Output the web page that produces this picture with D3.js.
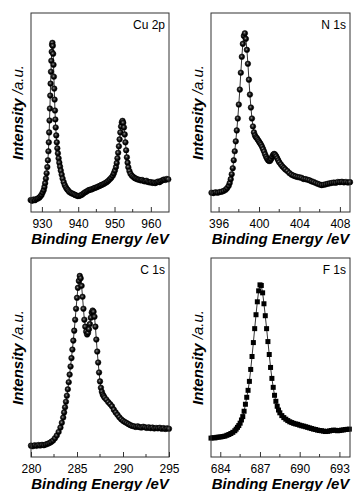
<!DOCTYPE html>
<html>
<head>
<meta charset="utf-8">
<script src="https://cdn.jsdelivr.net/npm/d3@7"></script>
<style>
  body { margin: 0; background: #fff; }
  svg { display: block; font-family: "Liberation Sans", Arial, sans-serif; }
  .frame { fill: none; stroke: #333; stroke-width: 1; }
  .trace { fill: none; stroke: #000; stroke-width: 0.8; }
  .tick-label { font-size: 12px; fill: #000; }
  .axis-title { font-size: 15px; font-weight: bold; font-style: italic; fill: #000; }
  .panel-name { font-size: 12px; fill: #000; }
</style>
</head>
<body>
<div id="chart"></div>
<script>
// --- Spectra: [binding energy (eV), intensity (a.u.)] ---
const cuData = [
  [926.9, 6.0], [927.3, 5.6], [927.7, 6.3], [928.1, 5.9], [928.5, 6.5], [928.9, 6.8],
  [929.3, 7.2], [929.6, 7.9], [929.9, 8.6], [930.2, 9.8], [930.5, 11.0], [930.7, 12.6],
  [930.9, 14.5], [931.1, 16.8], [931.3, 19.5], [931.5, 22.6], [931.65, 26.0], [931.8, 30.5],
  [931.9, 35.0], [932.0, 40.0], [932.1, 46.0], [932.2, 52.0], [932.3, 58.5], [932.4, 64.5],
  [932.5, 70.5], [932.6, 76.0], [932.7, 80.5], [932.8, 84.0], [932.9, 85.0], [933.0, 83.5],
  [933.1, 79.5], [933.2, 74.0], [933.3, 68.0], [933.4, 62.0], [933.5, 56.5], [933.6, 51.0],
  [933.7, 46.5], [933.8, 42.5], [933.95, 38.5], [934.1, 35.0], [934.25, 32.0], [934.4, 29.5],
  [934.6, 27.0], [934.8, 24.8], [935.0, 22.8], [935.2, 20.8], [935.45, 18.8], [935.7, 16.8],
  [936.0, 15.0], [936.3, 13.5], [936.6, 12.4], [936.9, 11.5], [937.2, 10.9], [937.5, 10.2],
  [937.9, 9.7], [938.3, 9.3], [938.7, 9.0], [939.1, 8.6], [939.5, 8.3], [939.9, 8.0],
  [940.3, 8.1], [940.7, 8.4], [941.1, 8.8], [941.5, 9.4], [941.9, 9.9], [942.3, 10.3],
  [942.7, 10.8], [943.1, 11.1], [943.5, 11.3], [943.9, 11.5], [944.3, 11.9], [944.7, 12.2],
  [945.1, 12.4], [945.5, 12.8], [945.9, 13.1], [946.3, 13.5], [946.7, 13.8], [947.1, 14.2],
  [947.5, 14.6], [947.9, 15.1], [948.3, 15.7], [948.7, 16.4], [949.1, 17.2], [949.5, 18.2],
  [949.8, 19.4], [950.1, 20.8], [950.4, 22.6], [950.6, 24.6], [950.8, 27.0], [951.0, 29.8],
  [951.2, 33.0], [951.4, 36.5], [951.6, 40.0], [951.8, 43.0], [952.0, 45.0], [952.2, 45.8],
  [952.4, 44.8], [952.6, 42.5], [952.8, 39.0], [953.0, 35.0], [953.2, 31.0], [953.4, 27.5],
  [953.6, 24.8], [953.8, 22.5], [954.1, 20.6], [954.4, 19.2], [954.8, 18.2], [955.2, 17.6],
  [955.6, 17.0], [956.0, 16.7], [956.4, 16.3], [956.8, 16.2], [957.2, 15.9], [957.6, 16.1],
  [958.0, 15.6], [958.4, 15.4], [958.8, 15.7], [959.2, 15.1], [959.6, 14.9], [960.0, 15.0],
  [960.4, 14.6], [960.8, 14.8], [961.2, 14.5], [961.6, 14.9], [962.0, 15.3], [962.4, 15.0],
  [962.8, 15.6], [963.2, 15.9], [963.6, 16.3], [964.0, 16.1], [964.4, 16.6], [964.8, 16.4]
];

const nData = [
  [395.3, 9.7], [395.5, 9.5], [395.7, 9.9], [395.9, 9.7], [396.1, 10.0], [396.3, 10.2],
  [396.5, 10.6], [396.7, 11.2], [396.85, 12.0], [397.0, 13.2], [397.1, 14.6], [397.2, 16.5],
  [397.3, 19.0], [397.4, 22.0], [397.5, 26.0], [397.6, 30.5], [397.7, 35.5], [397.8, 41.0],
  [397.9, 47.0], [398.0, 54.0], [398.1, 61.5], [398.2, 70.0], [398.3, 78.0], [398.4, 84.5],
  [398.5, 88.5], [398.6, 89.8], [398.7, 87.0], [398.8, 81.5], [398.9, 74.5], [399.0, 66.5],
  [399.1, 59.0], [399.2, 52.5], [399.3, 47.0], [399.4, 43.0], [399.5, 40.0], [399.6, 38.5],
  [399.7, 37.6], [399.8, 37.0], [399.9, 36.2], [400.0, 35.4], [400.1, 34.6], [400.2, 33.8],
  [400.3, 32.8], [400.4, 31.6], [400.5, 30.4], [400.6, 29.0], [400.7, 27.8], [400.8, 26.8],
  [400.9, 26.0], [401.0, 25.6], [401.1, 25.8], [401.2, 26.6], [401.3, 27.8], [401.4, 28.8],
  [401.5, 29.2], [401.6, 28.8], [401.7, 28.0], [401.8, 27.0], [401.9, 26.0], [402.0, 25.0],
  [402.15, 24.0], [402.3, 23.0], [402.45, 22.2], [402.6, 21.4], [402.8, 20.6], [403.0, 19.6],
  [403.2, 18.8], [403.4, 18.3], [403.6, 17.9], [403.8, 17.6], [404.0, 17.4], [404.2, 17.2],
  [404.4, 16.6], [404.6, 16.5], [404.8, 16.2], [405.0, 15.9], [405.2, 15.4], [405.4, 15.1],
  [405.6, 14.6], [405.8, 14.2], [406.0, 13.8], [406.2, 13.5], [406.4, 13.7], [406.6, 13.9],
  [406.8, 14.2], [407.0, 14.4], [407.2, 14.6], [407.4, 14.8], [407.6, 14.7], [407.8, 15.1],
  [408.0, 15.0], [408.2, 15.2], [408.4, 14.9], [408.6, 15.1], [408.8, 14.8], [409.0, 15.0]
];

const cData = [
  [280.0, 5.7], [280.2, 5.4], [280.4, 5.9], [280.6, 5.6], [280.8, 6.0], [281.0, 5.8],
  [281.2, 6.1], [281.4, 5.9], [281.6, 6.3], [281.8, 6.6], [282.0, 7.0], [282.2, 7.6],
  [282.4, 8.3], [282.6, 9.4], [282.8, 10.8], [283.0, 12.6], [283.2, 14.8], [283.35, 17.2],
  [283.5, 19.8], [283.6, 22.4], [283.7, 25.0], [283.8, 27.8], [283.9, 30.8], [284.0, 34.0],
  [284.1, 37.6], [284.2, 41.4], [284.3, 45.5], [284.4, 49.7], [284.5, 54.0], [284.6, 58.5],
  [284.7, 63.5], [284.8, 69.0], [284.9, 74.5], [285.0, 80.0], [285.1, 85.0], [285.2, 88.5],
  [285.3, 91.0], [285.4, 89.8], [285.5, 86.0], [285.6, 80.5], [285.7, 74.5], [285.8, 69.0],
  [285.9, 65.5], [286.0, 63.0], [286.1, 61.6], [286.2, 62.4], [286.3, 64.2], [286.4, 66.8],
  [286.5, 70.0], [286.6, 72.6], [286.7, 73.6], [286.8, 73.0], [286.9, 70.5], [287.0, 65.5],
  [287.1, 59.0], [287.2, 53.0], [287.3, 47.5], [287.4, 42.5], [287.5, 38.0], [287.6, 34.8],
  [287.7, 32.8], [287.8, 31.4], [287.9, 30.6], [288.0, 29.8], [288.2, 28.8], [288.4, 27.6],
  [288.6, 26.6], [288.8, 25.5], [289.0, 23.8], [289.2, 22.4], [289.4, 21.2], [289.6, 20.0],
  [289.8, 19.0], [290.0, 18.2], [290.2, 17.6], [290.4, 17.1], [290.6, 16.5], [290.8, 16.0],
  [291.0, 15.6], [291.2, 15.4], [291.4, 15.1], [291.6, 15.4], [291.8, 15.0], [292.0, 14.8],
  [292.2, 15.2], [292.4, 14.9], [292.6, 14.6], [292.8, 14.9], [293.0, 14.5], [293.2, 14.8],
  [293.4, 14.3], [293.6, 14.6], [293.8, 14.4], [294.0, 14.7], [294.2, 14.2], [294.4, 14.5],
  [294.6, 14.1], [294.8, 14.4], [295.0, 14.2]
];

const fData = [
  [683.3, 9.5], [683.45, 9.7], [683.6, 9.6], [683.75, 9.9], [683.9, 10.0], [684.05, 10.1],
  [684.2, 10.3], [684.35, 10.5], [684.5, 10.9], [684.65, 11.3], [684.8, 11.8], [684.95, 12.4],
  [685.1, 13.2], [685.2, 14.0], [685.3, 14.9], [685.4, 15.8], [685.5, 17.0], [685.6, 18.6],
  [685.7, 20.3], [685.8, 23.0], [685.9, 26.5], [686.0, 30.0], [686.1, 33.5], [686.2, 38.0],
  [686.3, 44.0], [686.4, 50.5], [686.5, 57.5], [686.6, 64.5], [686.7, 71.5], [686.8, 78.0],
  [686.9, 83.5], [687.0, 86.5], [687.1, 86.2], [687.2, 82.5], [687.3, 77.0], [687.4, 71.0],
  [687.5, 64.5], [687.6, 58.0], [687.7, 51.5], [687.8, 45.0], [687.9, 39.5], [688.0, 35.0],
  [688.1, 31.0], [688.2, 28.0], [688.3, 25.5], [688.4, 23.6], [688.5, 22.2], [688.65, 20.8],
  [688.8, 19.8], [688.95, 19.0], [689.1, 18.3], [689.25, 17.7], [689.4, 17.3], [689.55, 16.9],
  [689.7, 16.6], [689.85, 16.4], [690.0, 16.0], [690.15, 15.7], [690.3, 15.5], [690.45, 15.2],
  [690.6, 14.9], [690.75, 14.6], [690.9, 14.3], [691.05, 14.0], [691.2, 13.8], [691.35, 13.5],
  [691.5, 13.3], [691.65, 13.2], [691.8, 13.0], [691.95, 12.8], [692.1, 12.9], [692.25, 13.1],
  [692.4, 13.3], [692.55, 13.5], [692.7, 13.4], [692.85, 13.2], [693.0, 13.3], [693.15, 13.5],
  [693.3, 13.6], [693.45, 13.8], [693.6, 13.9], [693.75, 14.0]
];

// --- Tick labels ---
const cuTicks = [930, 940, 950, 960];
const nTicks = [396, 400, 404, 408];
const cTicks = [280, 285, 290, 295];
const fTicks = [684, 687, 690, 693];

const panelNames = ['Cu 2p', 'N 1s', 'C 1s', 'F 1s'];

// --- Layout ---
const W = 357, H = 491;
const panels = [
  { name: panelNames[0], data: cuData, ticks: cuTicks, domain: [927, 965], x0: 31, x1: 169, y0: 13, y1: 212, marker: 'ball' },
  { name: panelNames[1], data: nData, ticks: nTicks, domain: [395.25, 409], x0: 211, x1: 350, y0: 13, y1: 212, marker: 'ball' },
  { name: panelNames[2], data: cData, ticks: cTicks, domain: [280, 295], x0: 31, x1: 169, y0: 258, y1: 457, marker: 'ball' },
  { name: panelNames[3], data: fData, ticks: fTicks, domain: [683.3, 693.8], x0: 211, x1: 350, y0: 258, y1: 457, marker: 'square' }
];

const svg = d3.select('#chart')
  .append('svg')
  .attr('width', W)
  .attr('height', H);

// shaded "ball" marker, mostly black with a small grey highlight
const grad = svg.append('defs')
  .append('radialGradient')
  .attr('id', 'ball')
  .attr('cx', '42%').attr('cy', '40%').attr('r', '55%');
grad.append('stop').attr('offset', '0%').attr('stop-color', '#a8a8a8');
grad.append('stop').attr('offset', '30%').attr('stop-color', '#3a3a3a');
grad.append('stop').attr('offset', '75%').attr('stop-color', '#000');

panels.forEach(p => drawPanel(p));

function drawPanel(p) {
  const x = d3.scaleLinear().domain(p.domain).range([p.x0, p.x1]);
  const y = d3.scaleLinear().domain([0, 100]).range([p.y1, p.y0]);

  const g = svg.append('g').attr('class', 'panel');

  // minor ticks halfway between majors
  const step = p.ticks[1] - p.ticks[0];
  const minor = p.ticks.slice(0, -1).map(t => t + step / 2);

  // axis: inward ticks on the bottom edge only
  const xAxis = d3.axisBottom(x)
    .tickValues(p.ticks)
    .tickSize(-5)
    .tickFormat(d3.format('d'));

  const ax = g.append('g')
    .attr('transform', `translate(0,${p.y1})`)
    .call(xAxis);
  ax.select('.domain').remove();
  ax.selectAll('line').attr('stroke', '#333');
  ax.selectAll('text')
    .attr('class', 'tick-label')
    .attr('font-family', null)
    .attr('font-size', null)
    .attr('dy', null)
    .attr('y', 15.5);

  g.append('g')
    .selectAll('line')
    .data(minor)
    .enter().append('line')
    .attr('x1', d => x(d)).attr('x2', d => x(d))
    .attr('y1', p.y1).attr('y2', p.y1 - 3)
    .attr('stroke', '#333');

  // trace + markers
  const line = d3.line()
    .x(d => x(d[0]))
    .y(d => y(d[1]));

  g.append('path')
    .datum(p.data)
    .attr('class', 'trace')
    .attr('d', line);

  const marks = g.append('g');
  if (p.marker === 'square') {
    marks.selectAll('rect')
      .data(p.data)
      .enter().append('rect')
      .attr('x', d => x(d[0]) - 2.5)
      .attr('y', d => y(d[1]) - 2.5)
      .attr('width', 5)
      .attr('height', 5)
      .attr('fill', '#000');
  } else {
    marks.selectAll('circle')
      .data(p.data)
      .enter().append('circle')
      .attr('cx', d => x(d[0]))
      .attr('cy', d => y(d[1]))
      .attr('r', 2.8)
      .attr('fill', 'url(#ball)')
      .attr('stroke', '#000')
      .attr('stroke-width', 0.5);
  }

  // frame
  g.append('rect')
    .attr('class', 'frame')
    .attr('x', p.x0)
    .attr('y', p.y0)
    .attr('width', p.x1 - p.x0)
    .attr('height', p.y1 - p.y0);

  // panel name
  g.append('text')
    .attr('class', 'panel-name')
    .attr('x', p.x1 - 4)
    .attr('y', p.y0 + 16)
    .attr('text-anchor', 'end')
    .text(p.name);

  // axis titles
  g.append('text')
    .attr('class', 'axis-title')
    .attr('x', (p.x0 + p.x1) / 2)
    .attr('y', p.y1 + 32)
    .attr('text-anchor', 'middle')
    .text('Binding Energy /eV');

  const cy = (p.y0 + p.y1) / 2;
  const yt = g.append('text')
    .attr('class', 'axis-title')
    .attr('transform', `translate(${p.x0 - 8},${cy}) rotate(-90)`)
    .attr('text-anchor', 'middle');
  yt.append('tspan').text('Intensity ');
  yt.append('tspan').attr('font-weight', 'normal').text('/a.u.');
}
</script>
</body>
</html>
